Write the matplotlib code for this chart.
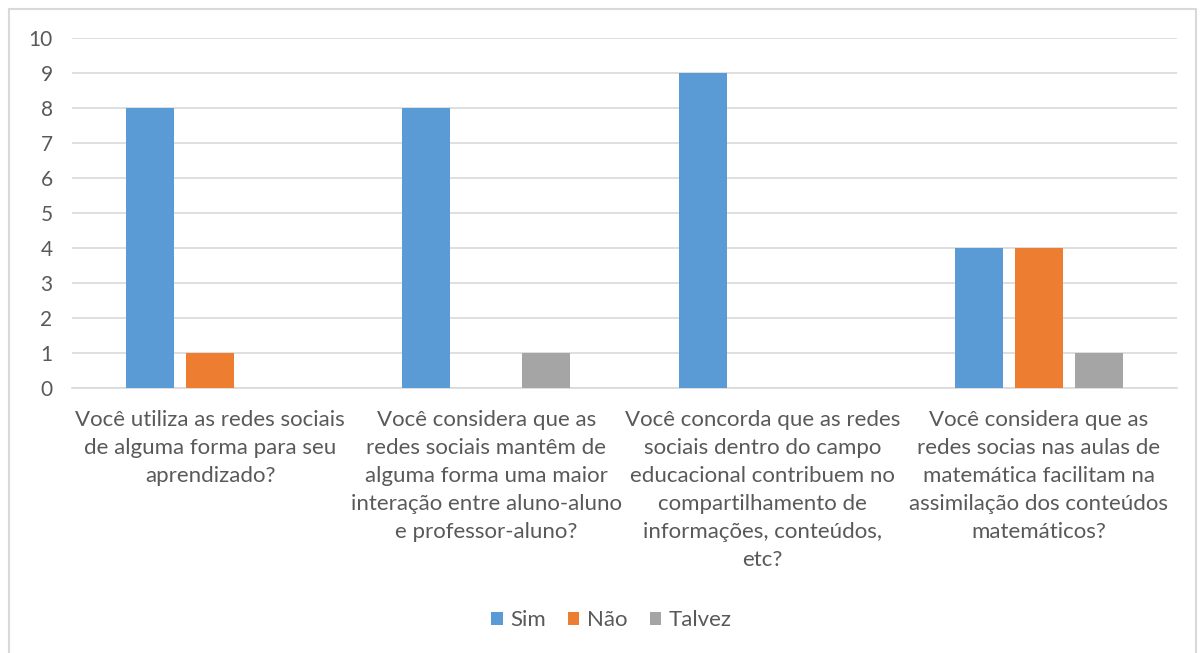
import matplotlib.pyplot as plt
from matplotlib.patches import Rectangle
import numpy as np

perguntas = [
    'Você utiliza as redes sociais\nde alguma forma para seu\naprendizado?',
    'Você considera que as\nredes sociais mantêm de\nalguma forma uma maior\ninteração entre aluno-aluno\ne professor-aluno?',
    'Você concorda que as redes\nsociais dentro do campo\neducacional contribuem no\ncompartilhamento de\ninformações, conteúdos,\netc?',
    'Você considera que as\nredes socias nas aulas de\nmatemática facilitam na\nassimilação dos conteúdos\nmatemáticos?',
]
series = ['Sim', 'Não', 'Talvez']
sim = [8, 8, 9, 4]
nao = [1, 0, 0, 4]
talvez = [0, 1, 0, 1]
cores = ['#5B9BD5', '#ED7D31', '#A5A5A5']

plt.rcParams['font.family'] = ['Lato', 'DejaVu Sans']
txt = '#595959'

fig = plt.figure(figsize=(12.04, 6.53), dpi=100)
ax = fig.add_axes([0.0598, 0.4058, 0.9178, 0.536])

x = np.arange(len(perguntas))
w = 0.174
off = 0.217
for i, (nome, vals) in enumerate(zip(series, [sim, nao, talvez])):
    ax.bar(x + (i - 1) * off, vals, w, color=cores[i], label=nome, linewidth=0, zorder=3)

ax.set_xlim(-0.5, len(perguntas) - 0.5)
ax.set_ylim(0, 10)
ax.set_yticks(range(0, 11))
ax.yaxis.grid(True, color='#D9D9D9', linewidth=1.2, zorder=0)
ax.set_xticks(x)
ax.set_xticklabels(perguntas, fontsize=16, color=txt, linespacing=1.5)
ax.tick_params(axis='x', length=0, pad=16)
ax.tick_params(axis='y', length=0, pad=14, labelsize=15, labelcolor=txt)
for s in ['top', 'right', 'left']:
    ax.spines[s].set_visible(False)
ax.spines['bottom'].set_color('#D9D9D9')
ax.spines['bottom'].set_linewidth(1.2)

leg = fig.legend(loc='center', bbox_to_anchor=(0.508, 0.05), ncol=3, frameon=False,
                 fontsize=16, handlelength=0.5, handleheight=0.5, handletextpad=0.35,
                 columnspacing=1.0)
for t in leg.get_texts():
    t.set_color(txt)

# moldura do gráfico
fig.patches.append(Rectangle((9 / 1204, -0.01), (1196 - 9) / 1204, 1 - 9 / 653 + 0.01,
                             transform=fig.transFigure, fill=False,
                             edgecolor='#D9D9D9', linewidth=1.5))

plt.savefig('out.png', dpi=100)
